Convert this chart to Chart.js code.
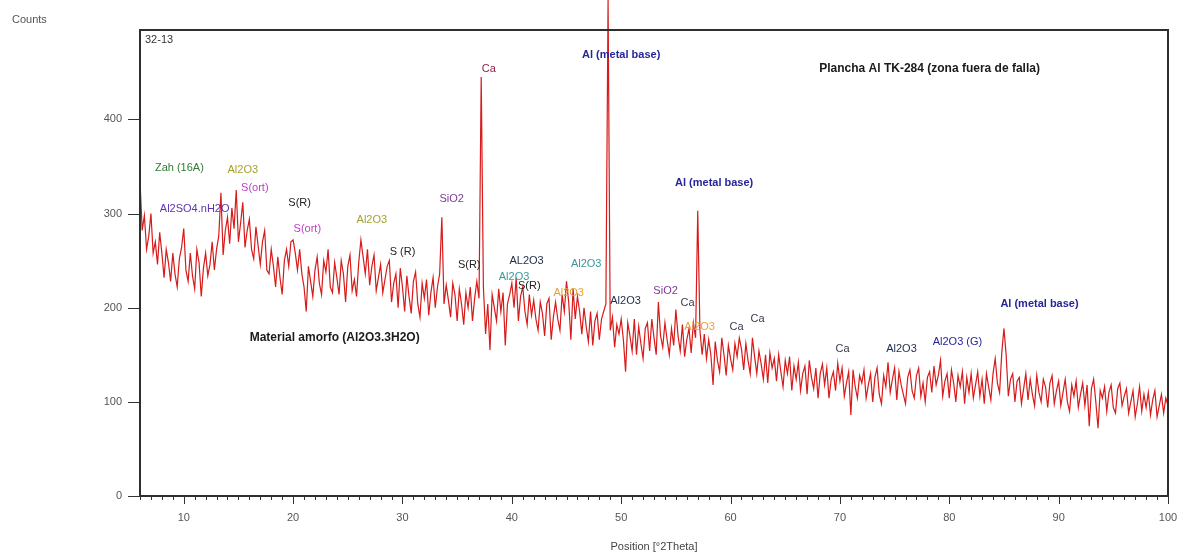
<!DOCTYPE html>
<html>
<head>
<meta charset="utf-8">
<script src="https://cdn.jsdelivr.net/npm/chart.js@4.4.1/dist/chart.umd.min.js"></script>
<style>
  html, body { margin: 0; padding: 0; background: #fff; }
  #wrap { width: 1180px; height: 559px; }
</style>
</head>
<body>
<div id="wrap"><canvas id="grafico" width="1180" height="559"></canvas></div>
<script>
// Difractograma: posición [°2Theta] desde 6.0 con paso 0.2
const startAngle = 6.0;
const stepAngle = 0.2;

// Counts (una fila = 2°)
const counts = [
  335, 282, 298, 262, 276, 300, 258, 270, 246, 280, // 6
  258, 232, 262, 248, 228, 258, 236, 222, 252, 264, // 8
  284, 240, 228, 258, 234, 220, 262, 248, 212, 242, // 10
  258, 234, 246, 270, 240, 262, 276, 322, 256, 282, // 12
  296, 268, 306, 284, 325, 270, 290, 312, 264, 282, // 14
  294, 262, 252, 286, 266, 246, 270, 282, 240, 236, // 16
  262, 244, 222, 254, 232, 214, 250, 262, 244, 270, // 18
  272, 258, 240, 262, 236, 222, 196, 244, 228, 212, // 20
  240, 254, 226, 214, 250, 238, 262, 222, 216, 248, // 22
  232, 214, 250, 236, 206, 244, 256, 218, 230, 212, // 24
  248, 272, 254, 236, 262, 224, 244, 256, 218, 232, // 26
  246, 216, 230, 244, 250, 206, 226, 236, 200, 242, // 28
  222, 196, 234, 212, 194, 228, 238, 204, 190, 226, // 30
  210, 230, 192, 216, 232, 200, 222, 236, 296, 204, // 32
  224, 208, 190, 226, 214, 186, 220, 204, 182, 216, // 34
  200, 222, 186, 210, 228, 210, 445, 222, 172, 204, // 36
  155, 214, 200, 186, 220, 196, 216, 160, 204, 214, // 38
  226, 200, 232, 186, 212, 222, 196, 182, 214, 192, // 40
  208, 188, 176, 206, 194, 170, 204, 210, 166, 190, // 42
  206, 188, 176, 214, 196, 228, 206, 166, 220, 188, // 44
  212, 196, 172, 200, 180, 164, 196, 160, 186, 194, // 46
  166, 188, 196, 204, 527, 176, 190, 158, 182, 172, // 48
  188, 166, 132, 184, 170, 154, 188, 150, 180, 162, // 50
  146, 178, 184, 154, 188, 168, 150, 206, 170, 158, // 52
  184, 166, 150, 178, 160, 198, 170, 154, 182, 148, // 54
  166, 178, 152, 184, 168, 303, 176, 150, 172, 146, // 56
  166, 150, 118, 164, 144, 132, 168, 150, 128, 160, // 58
  146, 134, 162, 148, 168, 156, 134, 162, 144, 130, // 60
  168, 148, 130, 154, 140, 124, 150, 120, 152, 136, // 62
  146, 122, 150, 132, 116, 144, 130, 148, 112, 138, // 64
  124, 142, 112, 130, 138, 108, 144, 126, 114, 136, // 66
  104, 130, 140, 118, 136, 104, 124, 132, 112, 141, // 68
  122, 136, 106, 120, 132, 86, 134, 116, 104, 128,  // 70
  120, 134, 104, 118, 130, 100, 126, 136, 108, 98,  // 72
  128, 116, 142, 110, 124, 136, 102, 132, 118, 108, // 74
  98, 126, 134, 112, 104, 128, 136, 106, 120, 100,  // 76
  126, 132, 110, 138, 118, 128, 144, 106, 122, 130, // 78
  104, 134, 120, 100, 128, 116, 132, 98, 126, 110,  // 80
  130, 104, 118, 132, 106, 124, 98, 130, 116, 102,  // 82
  130, 146, 120, 110, 152, 178, 150, 106, 124, 130, // 84
  100, 122, 126, 98, 114, 130, 102, 124, 108, 96,   // 86
  128, 110, 100, 124, 116, 94, 120, 128, 98, 112,   // 88
  122, 96, 110, 124, 100, 90, 118, 106, 122, 94,    // 90
  108, 120, 96, 118, 74, 114, 124, 100, 72, 112,    // 92
  104, 116, 90, 110, 118, 94, 88, 114, 120, 96,     // 94
  106, 114, 88, 100, 112, 84, 98, 116, 90, 108,     // 96
  94, 110, 86, 102, 112, 84, 96, 108, 88, 104,      // 98
  96                                                // 100
];

// Marcas de los ejes
const xTicks = [10, 20, 30, 40, 50, 60, 70, 80, 90, 100];
const yTicks = [0, 100, 200, 300, 400];

// Etiquetas de fases (posición en °2Theta / counts)
const peakLabels = [
  { text: 'Ca', x: 37.9, y: 454, color: '#8a1f45' },
  { text: 'Al (metal base)', x: 50.0, y: 468, color: '#26269a', bold: true },
  { text: 'Zah (16A)', x: 9.6, y: 348, color: '#2f7a34' },
  { text: 'Al2O3', x: 15.4, y: 346, color: '#a3a12e' },
  { text: 'S(ort)', x: 16.5, y: 327, color: '#c23ccc' },
  { text: 'Al2SO4.nH2O', x: 11.0, y: 305, color: '#5c34b0' },
  { text: 'S(R)', x: 20.6, y: 311, color: '#222' },
  { text: 'S(ort)', x: 21.3, y: 284, color: '#c23ccc' },
  { text: 'Al2O3', x: 27.2, y: 293, color: '#a3a12e' },
  { text: 'SiO2', x: 34.5, y: 316, color: '#7a3a92' },
  { text: 'S (R)', x: 30.0, y: 259, color: '#222' },
  { text: 'S(R)', x: 36.1, y: 245, color: '#222' },
  { text: 'AL2O3', x: 41.35, y: 250, color: '#1e2c4c' },
  { text: 'Al2O3', x: 40.2, y: 233, color: '#3a9a98' },
  { text: 'S(R)', x: 41.6, y: 223, color: '#222' },
  { text: 'Al2O3', x: 46.8, y: 247, color: '#3a9a98' },
  { text: 'Al2O3', x: 45.2, y: 216, color: '#e8a232' },
  { text: 'Al2O3', x: 50.4, y: 207, color: '#1e2c4c' },
  { text: 'SiO2', x: 54.06, y: 218, color: '#7a3a92' },
  { text: 'Ca', x: 56.07, y: 205, color: '#3a3a4e' },
  { text: 'Al2O3', x: 57.17, y: 180, color: '#e8a232' },
  { text: 'Ca', x: 60.55, y: 180, color: '#3a3a4e' },
  { text: 'Ca', x: 62.47, y: 188, color: '#3a3a4e' },
  { text: 'Al (metal base)', x: 58.5, y: 332, color: '#26269a', bold: true },
  { text: 'Ca', x: 70.24, y: 156, color: '#3a3a4e' },
  { text: 'Al2O3', x: 75.63, y: 156, color: '#1e2c4c' },
  { text: 'Al2O3 (G)', x: 80.75, y: 164, color: '#26269a' },
  { text: 'Al (metal base)', x: 88.25, y: 204, color: '#26269a', bold: true },
  { text: 'Material amorfo (Al2O3.3H2O)', x: 23.8, y: 168, color: '#1a1a1a', bold: true, size: 12 },
  { text: 'Plancha Al TK-284 (zona fuera de falla)', x: 78.2, y: 454, color: '#1a1a1a', bold: true, size: 12 }
];

const puntos = counts.map((c, i) => ({ x: startAngle + i * stepAngle, y: c }));
const fuente = '"Liberation Sans", Arial, sans-serif';

// Marco, marcas de ejes, etiquetas de texto
const decoracion = {
  id: 'decoracion',
  afterDatasetsDraw(chart) {
    const { ctx, chartArea: a, scales } = chart;
    const xs = scales.x, ys = scales.y;
    ctx.save();

    // marcas menores/mayores eje X
    ctx.strokeStyle = '#333';
    ctx.lineWidth = 1;
    for (let v = 6; v <= 100; v++) {
      const px = Math.round(xs.getPixelForValue(v)) + 0.5;
      const len = v % 10 === 0 ? 8 : 4;
      ctx.beginPath();
      ctx.moveTo(px, a.bottom);
      ctx.lineTo(px, a.bottom + len);
      ctx.stroke();
    }
    // marcas eje Y
    yTicks.forEach(v => {
      const py = Math.round(ys.getPixelForValue(v)) + 0.5;
      ctx.beginPath();
      ctx.moveTo(a.left - 12, py);
      ctx.lineTo(a.left, py);
      ctx.stroke();
    });

    // marco
    ctx.strokeStyle = '#2e2e2e';
    ctx.lineWidth = 2;
    ctx.strokeRect(a.left, a.top, a.right - a.left, a.bottom - a.top);

    // textos
    ctx.textBaseline = 'middle';
    ctx.fillStyle = '#555';
    ctx.font = '11px ' + fuente;
    ctx.textAlign = 'left';
    ctx.fillText('Counts', 12, 20);
    ctx.fillStyle = '#333';
    ctx.fillText('32-13', a.left + 5, a.top + 10);

    ctx.textAlign = 'center';
    peakLabels.forEach(l => {
      ctx.font = (l.bold ? 'bold ' : '') + (l.size || 11) + 'px ' + fuente;
      ctx.fillStyle = l.color;
      ctx.fillText(l.text, xs.getPixelForValue(l.x), ys.getPixelForValue(l.y));
    });
    ctx.restore();
  }
};

window.onload = function () {
  const ctx = document.getElementById('grafico').getContext('2d');

  new Chart(ctx, {
    type: 'line',
    data: {
      datasets: [{
        label: '32-13',
        data: puntos,
        borderColor: 'rgb(216,26,26)',
        borderWidth: 1.2,
        pointRadius: 0,
        tension: 0,
        fill: false,
        clip: false
      }]
    },
    options: {
      responsive: false,
      animation: false,
      devicePixelRatio: 1,
      layout: { padding: { left: 0, right: 12, top: 30, bottom: 0 } },
      plugins: {
        legend: { display: false },
        tooltip: { enabled: false }
      },
      scales: {
        x: {
          type: 'linear',
          min: 6,
          max: 100,
          grid: { display: false, drawTicks: false },
          border: { display: false },
          ticks: {
            maxRotation: 0,
            autoSkip: false,
            padding: 15,
            color: '#555',
            font: { family: fuente, size: 11 }
          },
          afterBuildTicks: s => { s.ticks = xTicks.map(v => ({ value: v })); },
          title: {
            display: true,
            text: 'Position [°2Theta]',
            color: '#444',
            padding: { top: 0, bottom: 5 },
            font: { family: fuente, size: 11 }
          },
          afterFit: s => { s.height = 63; s.paddingLeft = 0; s.paddingRight = 0; }
        },
        y: {
          min: 0,
          max: 495,
          grid: { display: false, drawTicks: false },
          border: { display: false },
          ticks: {
            autoSkip: false,
            padding: 18,
            color: '#555',
            font: { family: fuente, size: 11 }
          },
          afterBuildTicks: s => { s.ticks = yTicks.map(v => ({ value: v })); },
          afterFit: s => { s.width = 140; s.paddingTop = 0; s.paddingBottom = 0; }
        }
      }
    },
    plugins: [decoracion]
  });
};
</script>
</body>
</html>
